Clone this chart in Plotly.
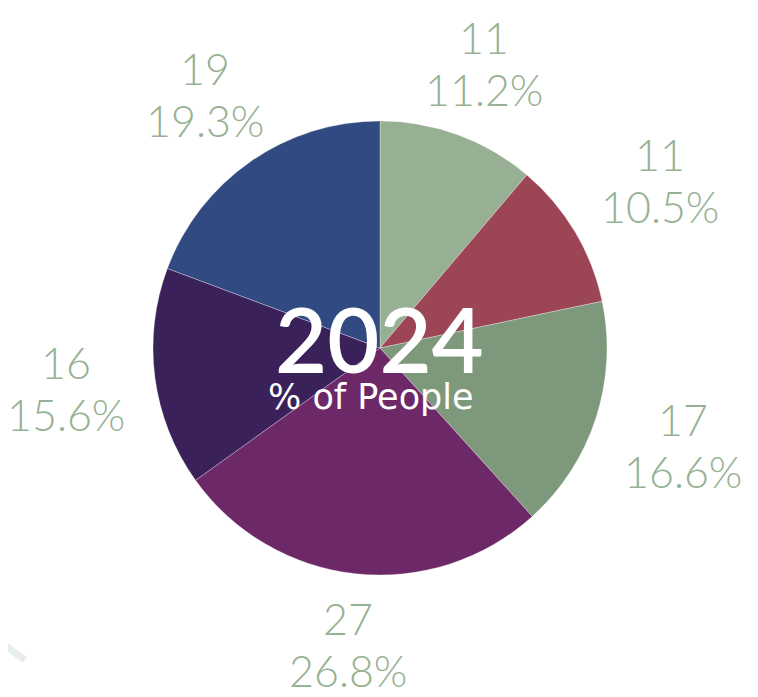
import math
import plotly.graph_objects as go

labels = ["A", "B", "C", "D", "E", "F"]
values = [11.2, 10.5, 16.6, 26.8, 15.6, 19.3]
colors = ["#97AF93", "#9B4555", "#7E987C", "#6D2868", "#3A2159", "#324A82"]
year_label = "2024"
sub_label = "% of People"

W, H = 758, 697
OFF = 8                         # page body margin offset
CX, CY, R = 380 - OFF, 348 - OFF, 227
GAP = 32                        # gap between pie edge and label box
HALF_W, HALF_H = 57, 40         # approx half size of a two-line label box

fig = go.Figure(go.Pie(
    labels=labels,
    values=values,
    sort=False,
    direction="clockwise",
    rotation=0,
    marker=dict(colors=colors, line=dict(color="rgba(255,255,255,0.5)", width=0.6)),
    textinfo="none",
    showlegend=False,
    hoverinfo="label+value+percent",
    domain=dict(x=[(CX - R) / W, (CX + R) / W], y=[(H - CY - R) / H, (H - CY + R) / H]),
))

total = sum(values)
cum = 0.0
lab_font = dict(family="Lato", size=43, color="#97B194", weight=300)
for v in values:
    mid = (cum + v / 2) / total * 2 * math.pi
    cum += v
    s, c = math.sin(mid), math.cos(mid)
    ext = min(HALF_W / max(abs(s), 1e-6), HALF_H / max(abs(c), 1e-6))
    r = R + GAP + ext
    px = CX + r * s
    py = CY - r * c
    pct = v / total * 100
    val_txt = str(int(math.floor(v + 0.5)))
    fig.add_annotation(x=px / W, y=1 - (py - 27) / H, xref="paper", yref="paper",
                       xanchor="center", yanchor="middle",
                       text=val_txt, showarrow=False, font=lab_font)
    fig.add_annotation(x=px / W, y=1 - (py + 25) / H, xref="paper", yref="paper",
                       xanchor="center", yanchor="middle",
                       text=f"{pct:.1f}%", showarrow=False, font=lab_font)

fig.add_annotation(x=(379 - OFF) / W, y=1 - (338 - OFF) / H, xref="paper", yref="paper",
                   xanchor="center", yanchor="middle",
                   text=year_label, showarrow=False,
                   font=dict(family="Lato", size=90, color="white", weight=600))
fig.add_annotation(x=(371 - OFF) / W, y=1 - (397 - OFF) / H, xref="paper", yref="paper",
                   xanchor="center", yanchor="middle",
                   text=sub_label, showarrow=False,
                   font=dict(family="DejaVu Sans", size=35, color="white"))

# decorative faint hexagon fragment bottom-left
deco = "rgba(232,238,232,1)"
fig.add_shape(type="line", xref="paper", yref="paper",
              x0=-0.003, y0=1 - 638 / H, x1=17 / W, y1=1 - 652 / H,
              line=dict(color=deco, width=7))

fig.update_layout(
    width=W, height=H,
    margin=dict(l=0, r=0, t=0, b=0),
    paper_bgcolor="white",
    plot_bgcolor="white",
)

fig.write_html("out.html")
